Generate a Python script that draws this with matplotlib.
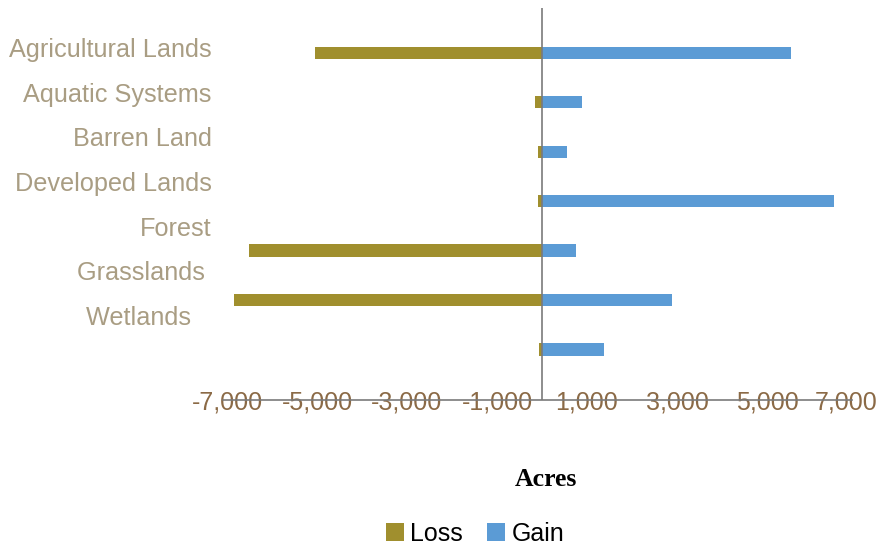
import numpy as np
import matplotlib
matplotlib.use('Agg')
import matplotlib.pyplot as plt
from matplotlib.transforms import ScaledTranslation

plt.rcParams['font.family'] = ['Liberation Sans', 'DejaVu Sans']

# data (acres), one row per bar pair, top to bottom
categories = ["Agricultural Lands", "Aquatic Systems", "Barren Land", "Developed Lands",
              "Forest", "Grasslands ", "Wetlands   "]
loss = [-5050, -160, -80, -80, -6500, -6840, -70]
gain = [5540, 900, 560, 6490, 750, 2900, 1380]
xticks = [-7000, -5000, -3000, -1000, 1000, 3000, 5000, 7000]

loss_color = "#a08f2e"
gain_color = "#5b9bd5"
cat_color = "#a99d83"
tick_color = "#8b6a46"

fig = plt.figure(figsize=(8.79, 5.5), dpi=100)
ax = fig.add_axes([191 / 879, 150 / 550, 684 / 879, 392 / 550])

rows = np.arange(len(loss))
ax.barh(rows, loss, height=0.25, color=loss_color, label="Loss")
ax.barh(rows, gain, height=0.25, color=gain_color, label="Gain")

ax.set_xlim(-7800, 7400)
ax.set_ylim(7.02, -0.906)

# vertical line at zero, horizontal axis line at bottom
for s in ["top", "right", "left"]:
    ax.spines[s].set_visible(False)
ax.axvline(0, color="#7a7a7a", linewidth=1.2)
ax.spines["bottom"].set_color("#7a7a7a")
ax.spines["bottom"].set_linewidth(1.2)
ax.spines["bottom"].set_bounds(-7090, 6890)

# x ticks, labels sitting on the axis line
ax.set_xticks(xticks)
ax.set_xticklabels([f"{v:,}" for v in xticks])
ax.tick_params(axis="x", length=0, pad=-7, labelsize=18, labelcolor=tick_color)
last = ax.get_xticklabels()[-1]
last.set_transform(last.get_transform() + ScaledTranslation(-11 / 100, 0, fig.dpi_scale_trans))

# category labels are spaced slightly tighter than the bars
label_pos = -0.107 + 0.903 * np.arange(len(categories))
ax.set_yticks(label_pos)
ax.set_yticklabels(categories)
ax.tick_params(axis="y", length=0, pad=-14.9, labelsize=18.2, labelcolor=cat_color)

fig.text(545.5 / 879, 1 - 480 / 550, "Acres", fontsize=18.5, fontweight="bold",
         family="Liberation Serif", ha="center", va="center")

fig.legend(loc="center", bbox_to_anchor=(475 / 879, 1 - 534 / 550), ncol=2, frameon=False,
           fontsize=18, handlelength=0.72, handleheight=0.72, handletextpad=0.24,
           columnspacing=1.0, borderpad=0)

fig.savefig("out.png", dpi=100)
